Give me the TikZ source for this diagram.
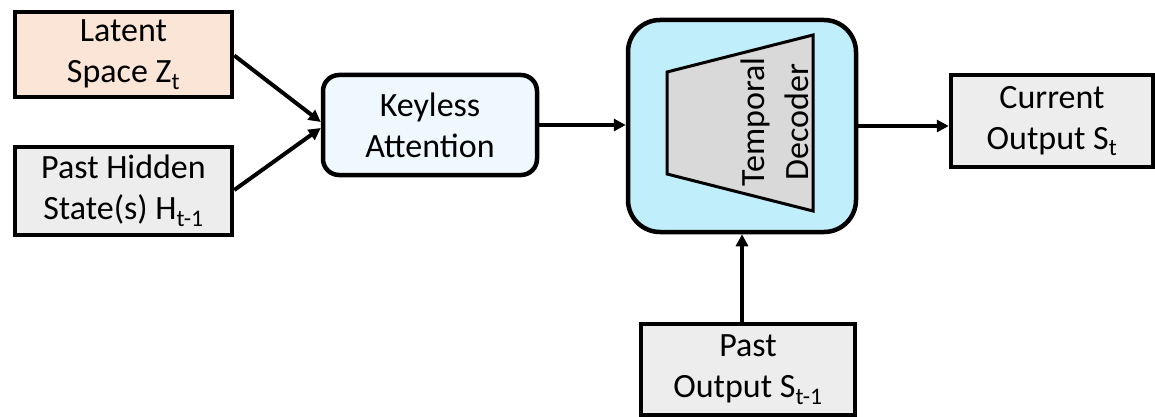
\documentclass[tikz,border=0pt]{standalone}
\usepackage{fontspec}
\setmainfont{Carlito}
\usetikzlibrary{arrows.meta,calc}
\definecolor{peach}{HTML}{FBE5D6}
\definecolor{lgrey}{HTML}{EDEDED}
\definecolor{paleblue}{HTML}{EEF8FE}
\definecolor{decblue}{HTML}{C1EEFB}
\definecolor{trapgrey}{HTML}{D9D9D9}
\tikzset{
  box/.style={draw=black, line width=4.5pt, align=center, inner sep=0pt,
    font=\fontsize{34}{41}\selectfont},
  conn/.style={line width=4pt, -{Triangle[length=12pt,width=12pt]}},
}
\begin{document}
\begin{tikzpicture}[x=1pt,y=-1pt]
\useasboundingbox (0,0) rectangle (1155,417);
\node[box, fill=peach, minimum width=217pt, minimum height=85pt] (lat) at (123.5,54.5) {Latent\\Space Z\textsubscript{t}};
\node[box, fill=lgrey, minimum width=217pt, minimum height=88pt] (hid) at (123.5,191) {Past Hidden\\State(s) H\textsubscript{t-1}};
\node[box, fill=paleblue, rounded corners=16pt, minimum width=214pt, minimum height=100pt] (att) at (430,125) {Keyless\\Attention};
\node[box, fill=decblue, rounded corners=32pt, minimum width=228pt, minimum height=212pt] (dec) at (742,126) {};
\draw[line width=3pt, fill=trapgrey] (667,72) -- (813,35) -- (813,211) -- (667,174) -- cycle;
\node[font=\fontsize{34}{44}\selectfont, align=center, rotate=90] (declab) at (775,122) {Temporal\\Decoder};
\node[box, fill=lgrey, minimum width=202pt, minimum height=92pt] (cur) at (1052,121) {Current\\Output S\textsubscript{t}};
\node[box, fill=lgrey, minimum width=214pt, minimum height=91pt] (pout) at (748,369.5) {Past\\Output S\textsubscript{t-1}};
\draw[conn] ($(lat.east)+(0,1)$) -- ($(att.west)+(0,-3)$);
\draw[conn] ($(hid.east)+(0,-1)$) -- ($(att.west)+(0,3)$);
\draw[conn] (att.east) -- (att.east -| dec.west);
\draw[conn] (dec.east) -- (dec.east -| cur.west);
\draw[conn] (dec.south |- pout.north) -- (dec.south);
\end{tikzpicture}
\end{document}
